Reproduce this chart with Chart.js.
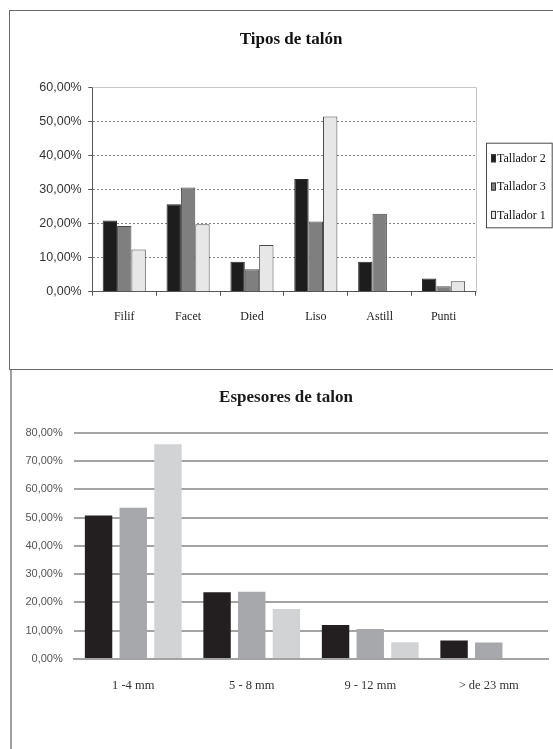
<!DOCTYPE html>
<html>
<head>
<meta charset="utf-8">
<script src="https://cdn.jsdelivr.net/npm/chart.js@4/dist/chart.umd.min.js"></script>
<style>
  html, body { margin: 0; padding: 0; background: #fff; }
  #wrap { position: relative; width: 553px; height: 749px; overflow: hidden; background: #fff; }
  canvas { position: absolute; left: 0; }
  #tipos { top: 0; }
  #espesores { top: 370px; }
  .frame { position: absolute; pointer-events: none; }
</style>
</head>
<body>
<div id="wrap">
  <canvas id="tipos" width="582" height="370"></canvas>
  <canvas id="espesores" width="553" height="379"></canvas>
  <div class="frame" style="left:9px;top:10px;width:600px;height:358px;border:1px solid #6a6a6a;border-right:none;"></div>
  <div class="frame" style="left:10px;top:370px;width:2px;height:379px;background:#a0a0a0;"></div>
</div>
<script>
// ---- Tipos de talón ----
const tiposCategories = ['Filif', 'Facet', 'Died', 'Liso', 'Astill', 'Punti'];
const tiposTallador2 = [20.9, 25.7, 8.8, 33.1, 8.8, 3.9];
const tiposTallador3 = [19.3, 30.6, 6.6, 20.6, 22.9, 1.6];
const tiposTallador1 = [12.4, 19.8, 13.7, 51.4, 0, 3.1];
const tiposTicks = [0, 10, 20, 30, 40, 50, 60];

// ---- Espesores de talon ----
const espesorCategories = ['1 -4 mm', '5 - 8 mm', '9 - 12 mm', '> de 23 mm'];
const espesorTallador2 = [50.7, 23.6, 12.0, 6.5];
const espesorTallador3 = [53.5, 23.8, 10.6, 5.8];
const espesorTallador1 = [75.9, 17.7, 5.9, 0];
const espesorTicks = [0, 10, 20, 30, 40, 50, 60, 70, 80];

const pct = v => Number(v).toFixed(2).replace('.', ',') + '%';
const SERIF = '"Liberation Serif", "Times New Roman", serif';
const SANS = '"Liberation Sans", Arial, sans-serif';

// Light frame on the top and right edges of the plot area
const plotFrame = {
  id: 'plotFrame',
  beforeDatasetsDraw(chart, args, opts) {
    if (!opts || !opts.color) return;
    const { ctx, chartArea: a } = chart;
    ctx.save();
    ctx.strokeStyle = opts.color;
    ctx.lineWidth = 1;
    ctx.beginPath();
    ctx.moveTo(Math.round(a.left) + 0.5, Math.round(a.top) + 0.5);
    ctx.lineTo(Math.round(a.right) + 0.5, Math.round(a.top) + 0.5);
    ctx.lineTo(Math.round(a.right) + 0.5, Math.round(a.bottom) + 0.5);
    ctx.stroke();
    ctx.restore();
  }
};

// Legend built from the datasets: a boxed column or a single row
const seriesLegend = {
  id: 'seriesLegend',
  afterDraw(chart, args, o) {
    if (!o || !o.mode) return;
    const ctx = chart.ctx;
    const sets = chart.data.datasets;
    ctx.save();
    ctx.font = o.font;
    ctx.textBaseline = 'middle';
    if (o.mode === 'box') {
      ctx.strokeStyle = o.borderColor;
      ctx.lineWidth = 1;
      ctx.strokeRect(o.x + 0.5, o.y + 0.5, o.width, o.height);
      sets.forEach((ds, i) => {
        const cy = o.y + o.firstRow + i * o.rowGap;
        ctx.fillStyle = ds.backgroundColor;
        ctx.fillRect(o.x + o.markerX, cy - o.markerH / 2, o.markerW, o.markerH);
        ctx.strokeStyle = '#333';
        ctx.strokeRect(o.x + o.markerX + 0.5, cy - o.markerH / 2 + 0.5, o.markerW - 1, o.markerH - 1);
        ctx.fillStyle = o.color;
        ctx.fillText(ds.label, o.x + o.markerX + o.markerW + 1, cy + 0.5);
      });
    } else {
      sets.forEach((ds, i) => {
        const x = o.x + i * o.step;
        ctx.fillStyle = ds.backgroundColor;
        ctx.fillRect(x, o.y - o.markerH / 2, o.markerW, o.markerH);
        ctx.fillStyle = o.color;
        ctx.fillText(ds.label, x + o.markerW + 1.5, o.y + 0.5);
      });
    }
    ctx.restore();
  }
};

new Chart(document.getElementById('tipos'), {
  type: 'bar',
  data: {
    labels: tiposCategories,
    datasets: [
      { label: 'Tallador 2', data: tiposTallador2, backgroundColor: '#1d1d1d', borderColor: '#2a2a2a', borderWidth: 1 },
      { label: 'Tallador 3', data: tiposTallador3, backgroundColor: '#7f7f7f', borderColor: '#4a4a4a', borderWidth: 1 },
      { label: 'Tallador 1', data: tiposTallador1, backgroundColor: '#e7e7e7', borderColor: '#4a4a4a', borderWidth: 1 }
    ]
  },
  options: {
    responsive: false,
    animation: false,
    devicePixelRatio: 1,
    categoryPercentage: 0.675,
    barPercentage: 1,
    layout: { padding: { left: 0, top: 10, right: 0, bottom: 38.3 } },
    plugins: {
      legend: { display: false },
      tooltip: { enabled: false },
      title: {
        display: true,
        text: 'Tipos de talón',
        color: '#111',
        font: { family: SERIF, size: 17, weight: 'bold' },
        padding: { top: 19.8, bottom: 37.1 }
      },
      plotFrame: { color: '#c6c6c6' },
      seriesLegend: {
        mode: 'box', x: 486, y: 142.7, width: 65.7, height: 84.6,
        firstRow: 15.6, rowGap: 28.3, markerX: 5, markerW: 5, markerH: 8,
        borderColor: '#4a4a4a', color: '#111', font: '12px ' + SERIF
      }
    },
    scales: {
      x: {
        grid: { display: true, drawOnChartArea: false, drawTicks: true, tickLength: 4, tickColor: '#555', offset: true },
        border: { display: true, color: '#555', width: 1 },
        ticks: { color: '#222', font: { family: SERIF, size: 12 }, padding: 13.6, maxRotation: 0 },
        afterFit(s) { s.height = 40; }
      },
      y: {
        min: 0,
        max: 60,
        afterBuildTicks(s) { s.ticks = tiposTicks.map(v => ({ value: v })); },
        ticks: { callback: pct, color: '#333', font: { family: SANS, size: 12.5 }, padding: 6.6 },
        grid: {
          color: c => (c.tick && (c.tick.value === c.scale.min || c.tick.value === c.scale.max)) ? 'rgba(0,0,0,0)' : '#858585',
          lineWidth: 1, drawTicks: true, tickLength: 4, tickColor: '#555'
        },
        border: { display: true, color: '#555', width: 1, dash: [2, 2] },
        afterFit(s) { s.width = 92.3; }
      },
      // empty right-hand band that holds the legend column
      legendBand: {
        type: 'linear',
        position: 'right',
        display: true,
        ticks: { display: false },
        grid: { display: false, drawTicks: false },
        border: { display: false },
        afterFit(s) { s.width = 106.5; }
      }
    }
  },
  plugins: [plotFrame, seriesLegend]
});

new Chart(document.getElementById('espesores'), {
  type: 'bar',
  data: {
    labels: espesorCategories,
    datasets: [
      { label: 'Tallador 2', data: espesorTallador2, backgroundColor: '#231f20', borderWidth: 0 },
      { label: 'Tallador 3', data: espesorTallador3, backgroundColor: '#a7a8ab', borderWidth: 0 },
      { label: 'Tallador 1', data: espesorTallador1, backgroundColor: '#d2d3d5', borderWidth: 0 }
    ]
  },
  options: {
    responsive: false,
    animation: false,
    devicePixelRatio: 1,
    categoryPercentage: 0.878,
    barPercentage: 0.79,
    layout: { padding: { left: 24, top: 0, right: 5, bottom: 50 } },
    plugins: {
      legend: { display: false },
      tooltip: { enabled: false },
      title: {
        display: true,
        text: 'Espesores de talon',
        color: '#1a1a1a',
        font: { family: SERIF, size: 17, weight: 'bold' },
        padding: { top: 17.8, bottom: 24.5 }
      },
      seriesLegend: {
        mode: 'row', x: 185, y: 359.3, step: 74, markerW: 6, markerH: 7,
        color: '#222', font: '12px ' + SERIF
      }
    },
    scales: {
      x: {
        grid: { display: false, drawTicks: false },
        border: { display: true, color: '#a3a3a3', width: 2 },
        ticks: { color: '#333', font: { family: SERIF, size: 12.5 }, padding: 19.2, maxRotation: 0 },
        afterFit(s) { s.height = 40; }
      },
      y: {
        min: 0,
        max: 80,
        afterBuildTicks(s) { s.ticks = espesorTicks.map(v => ({ value: v })); },
        ticks: { callback: pct, color: '#555', font: { family: SANS, size: 11 }, padding: 11.3 },
        grid: { color: '#a3a3a3', lineWidth: 2, drawTicks: false },
        border: { display: false },
        afterFit(s) { s.width = 50; }
      }
    }
  }
});
</script>
</body>
</html>
